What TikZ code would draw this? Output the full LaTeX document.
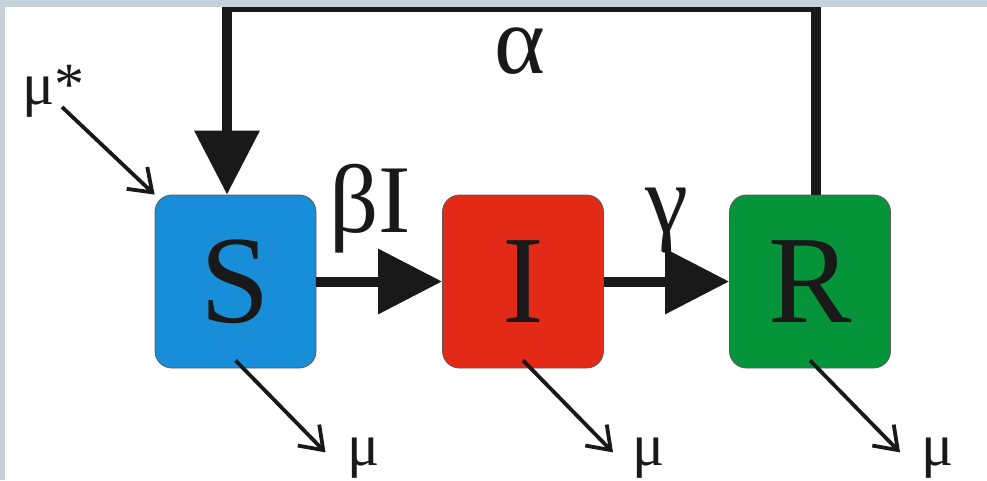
\documentclass[tikz,border=0pt]{standalone}
\usepackage{fontspec}
\setmainfont{Liberation Serif}
\usetikzlibrary{arrows.meta}
\definecolor{frameGray}{RGB}{198,209,217}
\definecolor{sBlue}{RGB}{24,142,216}
\definecolor{iRed}{RGB}{226,42,22}
\definecolor{rGreen}{RGB}{6,148,58}
\definecolor{inkBlack}{RGB}{25,25,25}
\begin{document}
\begin{tikzpicture}[x=1pt,y=-1pt,
  comp/.style={draw=black!65, line width=0.8pt, rounded corners=17pt, minimum width=161pt, minimum height=173pt, inner sep=0pt, font=\fontsize{125}{125}\selectfont, text=inkBlack},
  flow/.style={draw=inkBlack, line width=10pt, -{Triangle[length=64pt,width=63pt]}},
  rate/.style={draw=inkBlack, line width=3.8pt, -{Straight Barb[length=21pt,width=30pt]}},
  biglab/.style={font=\fontsize{97}{97}\selectfont, anchor=base, inner sep=0pt, text=inkBlack},
  smlab/.style={font=\fontsize{60}{60}\selectfont, anchor=base, inner sep=0pt, text=inkBlack}]
\useasboundingbox (0,0) rectangle (987,480);
\fill[white] (0,0) rectangle (987,480);

% compartments
\node[comp, fill=sBlue] (S) at (235.5,281.5) {S};
\node[comp, fill=iRed] (I) at (523,281.5) {I};
\node[comp, fill=rGreen] (R) at (810,281.5) {R};

% feedback loop R -> S
\coordinate (fbL) at (227,7);
\coordinate (fbR) at (816,7);
\draw[flow, line join=miter] (R.north -| fbR) -- (fbR) -- (fbL) -- (S.north -| fbL);

% frame strips
\fill[frameGray] (0,0) rectangle (987,7);
\fill[frameGray] (0,0) rectangle (5,480);

% transitions
\draw[flow] (S.east) -- (I.west);
\draw[flow] (I.east) -- (R.west);

% labels
\node[biglab] (alpha) at (520,73) {α};
\node[biglab] (betaI) at (370,232) {βI};
\node[biglab] (gamma) at (667,232) {γ};

% birth
\node[smlab, anchor=base west] (mustar) at (22,104) {μ*};
\coordinate (inStart) at (62,107);
\draw[rate] (inStart) -- (S.north west);

% deaths
\draw[rate] ([yshift=8pt]S.south) -- ++(90,92) coordinate (dS);
\draw[rate] ([yshift=8pt]I.south) -- ++(90,92) coordinate (dI);
\draw[rate] ([yshift=8pt]R.south) -- ++(90,92) coordinate (dR);
\node[smlab] (muS) at (364,465) {μ};
\node[smlab] (muI) at (649,465) {μ};
\node[smlab] (muR) at (938,465) {μ};
\end{tikzpicture}
\end{document}
